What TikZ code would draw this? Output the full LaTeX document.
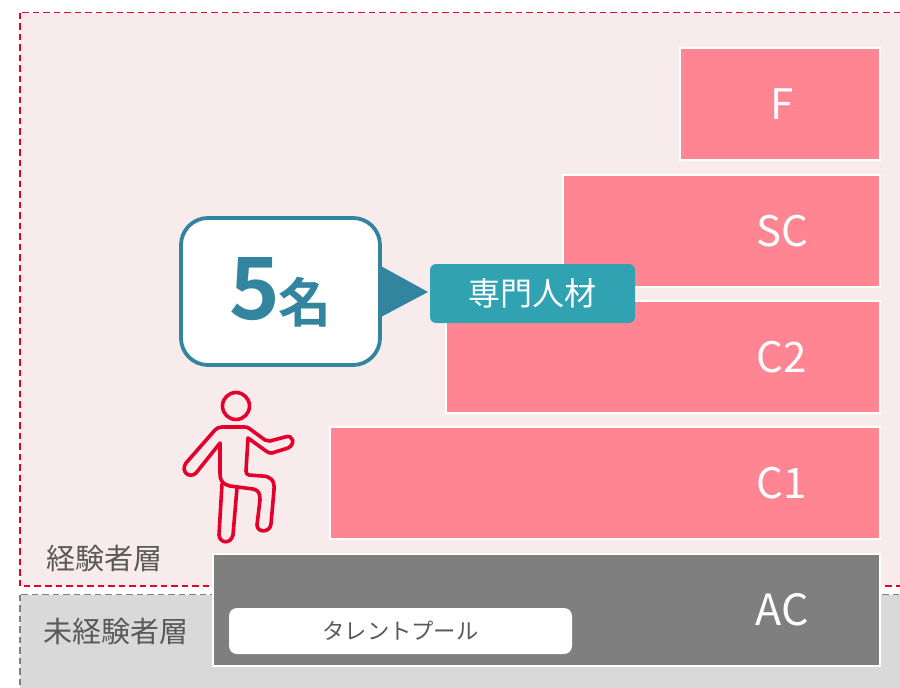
\documentclass[tikz,border=0pt]{standalone}
\usepackage{fontspec}
\setmainfont{Noto Sans CJK JP}
\newfontfamily\boldcjk{Noto Sans CJK JP Bold}
\definecolor{pinkbg}{HTML}{F7EBEB}
\definecolor{pinkbar}{HTML}{FF8593}
\definecolor{grayback}{HTML}{D9D9D9}
\definecolor{grayedge}{HTML}{7F7F7F}
\definecolor{grayink}{HTML}{595959}
\definecolor{tealfill}{HTML}{31A2B2}
\definecolor{tealdark}{HTML}{33849F}
\definecolor{redline}{HTML}{E4002B}
\tikzset{
  bar/.style={draw=white,line width=2.4pt,fill=pinkbar,inner sep=0pt,outer sep=0pt,minimum height=112pt,anchor=east},
  barlabel/.style={text=white,font=\fontsize{42}{46}\selectfont,inner sep=0pt},
  layerlabel/.style={text=grayink,inner sep=0pt},
  figure/.style={draw=redline,line width=3.6pt,line cap=round,line join=round},
}
\begin{document}
\begin{tikzpicture}[x=1pt,y=-1pt]
\useasboundingbox (0,0) rectangle (900,688);
\fill[white] (0,0) rectangle (900,688);
\draw[draw=redline,fill=pinkbg,line width=1.3pt,dash pattern=on 6.5pt off 4pt] (20,12.5) rectangle (905,586);
\draw[draw=grayedge,fill=grayback,line width=1.3pt,dash pattern=on 6.5pt off 4pt] (20,594.5) rectangle (905,695);
% bars
\node[bar,minimum width=200pt] (barf) at (880,104) {};
\node[bar,minimum width=317pt] (barsc) at (880,231) {};
\node[bar,minimum width=434pt] (barctwo) at (880,357) {};
\node[bar,minimum width=550pt] (barcone) at (880,483) {};
\node[bar,minimum width=667pt,fill=grayedge] (barac) at (880,610) {};
\node[barlabel] (fl) at (782,104) {F};
\node[barlabel] (scl) at (782,231) {SC};
\node[barlabel] (c2l) at (782,357) {C2};
\node[barlabel] (c1l) at (782,483) {C1};
\node[barlabel,font=\fontsize{43}{46}\selectfont] (acl) at (782,610) {AC};
% pool
\node[fill=white,rounded corners=8pt,minimum width=343pt,minimum height=46pt,inner sep=0pt,text=grayink,font=\fontsize{22.3}{25}\selectfont] (pool) at (400.5,631) {タレントプール};
% layer labels
\node[layerlabel,font=\fontsize{29}{32}\selectfont] (exp) at (104,559) {経験者層};
\node[layerlabel,font=\fontsize{29}{32}\selectfont] (noexp) at (116,632) {未経験者層};
% callout
\fill[tealdark] (379,265) -- (428,292) -- (379,318) -- cycle;
\node[draw=tealdark,fill=white,line width=3.8pt,rounded corners=27pt,minimum width=199pt,minimum height=147pt,inner sep=0pt] (box) at (280.5,291.5) {};
\node[text=tealdark,inner sep=0pt,font=\boldcjk\fontsize{86}{90}\selectfont] (five) at (254.5,289.5) {5};
\node[text=tealdark,inner sep=0pt,font=\boldcjk\fontsize{53}{56}\selectfont] (mei) at (304.5,302.5) {名};
\node[fill=tealfill,rounded corners=6pt,minimum width=205pt,minimum height=59pt,inner sep=0pt,text=white,font=\fontsize{32}{35}\selectfont] (senmon) at (532.5,293.5) {専門人材};
% person
\draw[figure] (236,406) circle (13.5);
\draw[figure] (220,443) -- (220,473) .. controls (220,483) and (224,484) .. (230,486)
  -- (253,489) .. controls (259,490) and (260,494) .. (260,500)
  -- (257,525) .. controls (257,533) and (270,533) .. (271,524)
  -- (274,490) .. controls (275,480) and (270,476) .. (262,476)
  -- (249,475) .. controls (247,475) and (246,473) .. (246,471) -- (248,438)
  -- (266,451) .. controls (268,453) and (270,453) .. (272,453)
  -- (288,448) .. controls (296,444) and (293,434) .. (285,437)
  -- (270,441) .. controls (268,441) and (267,441) .. (265,440)
  -- (250,429) .. controls (248,427) and (246,427) .. (244,427)
  -- (222,427) .. controls (219,427) and (217,428) .. (215,430)
  -- (186,463) .. controls (180,472) and (190,479) .. (196,473) -- cycle;
\draw[figure] (222,484) -- (219,535) .. controls (220,544) and (231,544) .. (233,535) -- (237,488);
\end{tikzpicture}
\end{document}
